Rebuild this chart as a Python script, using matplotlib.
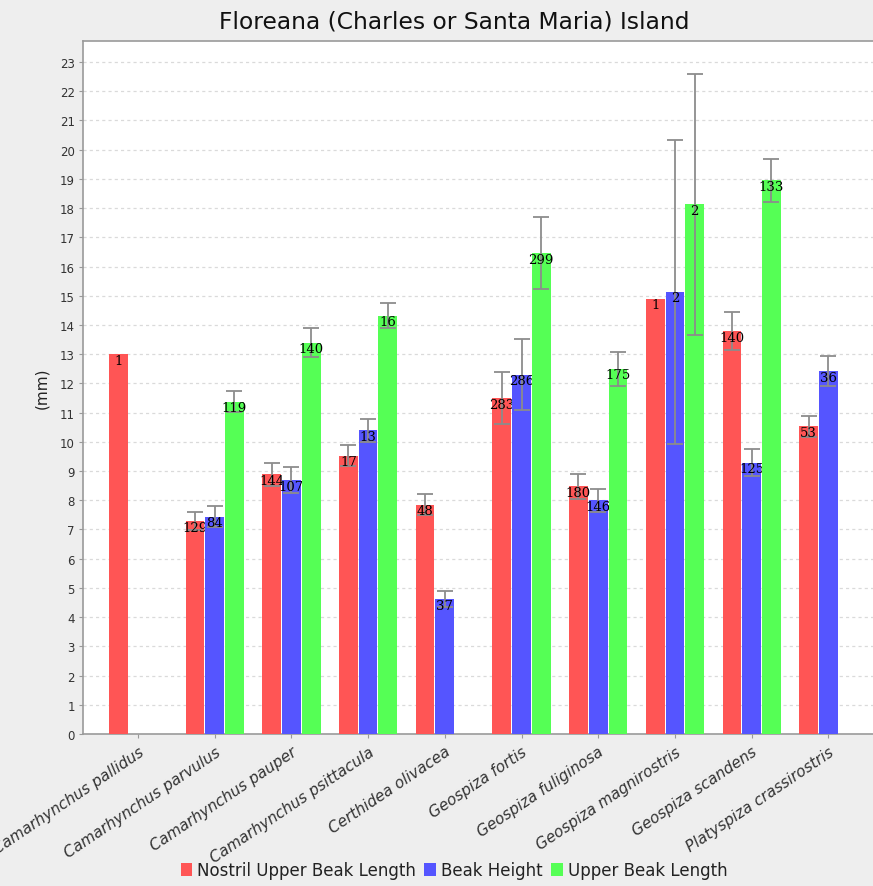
import numpy as np
import matplotlib
matplotlib.use("Agg")
import matplotlib.pyplot as plt
from matplotlib.patches import Patch

# Species on Floreana and their mean beak measurements (mm)
species = [
    "Camarhynchus pallidus", "Camarhynchus parvulus", "Camarhynchus pauper",
    "Camarhynchus psittacula", "Certhidea olivacea", "Geospiza fortis",
    "Geospiza fuliginosa", "Geospiza magnirostris", "Geospiza scandens",
    "Platyspiza crassirostris",
]
series_names = ["Nostril Upper Beak Length", "Beak Height", "Upper Beak Length"]

nostril_mean = [13.0, 7.28, 8.89, 9.53, 7.85, 11.5, 8.48, 14.9, 13.79, 10.53]
nostril_sd = [np.nan, 0.31, 0.39, 0.37, 0.36, 0.88, 0.42, np.nan, 0.66, 0.36]
nostril_n = [1, 129, 144, 17, 48, 283, 180, 1, 140, 53]

height_mean = [np.nan, 7.44, 8.69, 10.40, 4.62, 12.3, 8.0, 15.13, 9.29, 12.42]
height_sd = [np.nan, 0.35, 0.45, 0.39, 0.26, 1.22, 0.40, 5.19, 0.45, 0.52]
height_n = [None, 84, 107, 13, 37, 286, 146, 2, 125, 36]

upper_mean = [np.nan, 11.38, 13.40, 14.32, np.nan, 16.45, 12.5, 18.13, 18.95, np.nan]
upper_sd = [np.nan, 0.37, 0.49, 0.43, np.nan, 1.23, 0.58, 4.47, 0.73, np.nan]
upper_n = [None, 119, 140, 16, None, 299, 175, 2, 133, None]

y_ticks = list(range(0, 24))

colors = ["#FF5555", "#5555FF", "#55FF55"]
means = [nostril_mean, height_mean, upper_mean]
sds = [nostril_sd, height_sd, upper_sd]
counts = [nostril_n, height_n, upper_n]

W, H = 873, 887
fig = plt.figure(figsize=(W / 100, H / 100), dpi=100)
fig.patch.set_facecolor("#EEEEEE")

left_px, right_px, top_px, bottom_px = 83.3, 883.0, 42.0, 735.0
ax = fig.add_axes([left_px / W, 1 - bottom_px / H,
                   (right_px - left_px) / W, (bottom_px - top_px) / H])
ax.set_facecolor("white")

x = np.arange(len(species))
bar_w = 0.245
step = 0.257

for i, (m, s, n, c) in enumerate(zip(means, sds, counts, colors)):
    xi = x + (i - 1) * step
    base = 3 + i
    ax.bar(xi, m, width=bar_w, color=c, edgecolor="none", zorder=base)
    ax.errorbar(xi, m, yerr=s, fmt="none", ecolor="#8C8C8C", elinewidth=1.3,
                capsize=5.8, capthick=1.3, zorder=base + 0.3)
    for xx, mm, nn in zip(xi, m, n):
        if nn is None or np.isnan(mm):
            continue
        ax.annotate(str(nn), (xx, mm), xytext=(0, -6), textcoords="offset pixels",
                    ha="center", va="center", fontsize=9.5,
                    family="DejaVu Serif", color="black", zorder=base + 0.6)

ax.set_xlim(-0.713, 9.713)
ax.set_ylim(0, 23.72)
ax.set_yticks(y_ticks)
ax.set_yticklabels([str(t) for t in y_ticks], fontsize=8.5, color="#333333")
ax.set_xticks(x)
ax.set_xticklabels(species, rotation=34, ha="right", rotation_mode="anchor",
                   fontsize=11, style="italic", color="#333333")
ax.tick_params(axis="both", length=3, color="#999999", pad=3)
ax.tick_params(axis="x", pad=4)

ax.yaxis.grid(True, linestyle=(0, (2.5, 2.5)), color="#DADADA", linewidth=0.9, zorder=0)
ax.set_axisbelow(True)
for sp in ax.spines.values():
    sp.set_color("#9A9A9A")
    sp.set_linewidth(1.2)

ax.set_ylabel("(mm)", fontsize=11, color="#222222", labelpad=8)

fig.text(454 / W, 1 - 22 / H, "Floreana (Charles or Santa Maria) Island",
         ha="center", va="center", fontsize=16.8, color="#111111")

handles = [Patch(facecolor=c, edgecolor="none") for c in colors]
fig.legend(handles, series_names, loc="center", bbox_to_anchor=(454 / W, 1 - 871 / H),
           ncol=3, frameon=False, fontsize=12, handlelength=0.7, handleheight=0.8,
           handletextpad=0.3, columnspacing=0.5, labelcolor="#222222")

fig.savefig("out.png", dpi=100, facecolor=fig.get_facecolor())
